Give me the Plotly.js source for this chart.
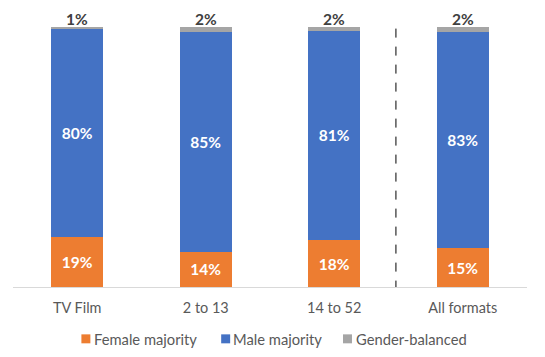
<!DOCTYPE html>
<html>
<head>
<meta charset="utf-8">
<script src="https://cdn.plot.ly/plotly-3.0.1.min.js"></script>
<style>html,body{margin:0;padding:0;background:#fff;}#chart{width:545px;height:357px;}</style>
</head>
<body>
<div id="chart"></div>
<script>
var categories = ["TV Film", "2 to 13", "14 to 52", "All formats"];
var femaleMajority = [19.3, 13.5, 18.0, 14.9];
var maleMajority = [79.9, 84.7, 80.6, 83.2];
var genderBalanced = [0.8, 1.8, 1.6, 1.9];
var seriesNames = ["Female majority", "Male majority", "Gender-balanced"];
var seriesColors = ["#ED7D31", "#4472C4", "#A5A5A5"];

var FONT = "Lato, Carlito, Calibri, sans-serif";

// pick a Lato size that gives the same text width as the original 12pt Calibri
function fitSize(sample, targetPx, weight, fallback) {
  try {
    var c = document.createElement("canvas").getContext("2d");
    c.font = weight + " 100px Lato";
    var w = c.measureText(sample).width;
    var s = 100 * targetPx / w;
    if (isFinite(s) && s > 12 && s < 20) return s;
  } catch (e) {}
  return fallback;
}
var tickSize = fitSize("TV Film", 49, "normal", 16);
var legendSize = fitSize("Female majority", 103, "normal", 16);
var labelSize = 15.5;

function barTrace(vals, i, inside) {
  var t = {
    type: "bar",
    name: seriesNames[i],
    x: categories,
    y: vals,
    marker: {color: seriesColors[i], line: {width: 0}},
    showlegend: false,
    hoverinfo: "skip"
  };
  if (inside) {
    t.texttemplate = "%{y:.0f}%";
    t.textposition = "inside";
    t.insidetextanchor = "middle";
    t.textangle = 0;
    t.constraintext = "none";
    t.textfont = {family: FONT, size: labelSize, color: "#ffffff", weight: "bold"};
  } else {
    t.textposition = "none";
  }
  return t;
}

var data = [
  barTrace(femaleMajority, 0, true),
  barTrace(maleMajority, 1, true),
  barTrace(genderBalanced, 2, false)
];

var YMAX = 100;

// top labels for the thin gender-balanced segment, placed above each stack
var annotations = categories.map(function (c, k) {
  var total = femaleMajority[k] + maleMajority[k] + genderBalanced[k];
  return {
    x: c, y: Math.min(total, YMAX), xref: "x", yref: "y",
    text: Math.round(genderBalanced[k]) + "%",
    showarrow: false, yanchor: "bottom", yshift: -3,
    font: {family: FONT, size: labelSize, color: "#404040", weight: "bold"}
  };
});

// custom legend (small squares + labels) below the plot
var plotL = 12.5, plotR = 527.3, plotT = 26.7, plotB = 287.5;
var plotW = plotR - plotL, plotH = plotB - plotT;
var legendSq = [81, 221, 343];   // pixel x of each square's left edge
var legendTx = [92, 231, 354];   // pixel x of each label's left edge
var legendY = 339.5;             // pixel y of legend centre
function px2x(p) { return (p - plotL) / plotW; }
function py2y(p) { return (plotB - p) / plotH; }

var shapes = [{
  type: "line", xref: "x", yref: "y",
  x0: 2.48, x1: 2.48, y0: -1, y1: 105,
  line: {color: "#000000", width: 1, dash: "dash"}
}];

seriesNames.forEach(function (nm, i) {
  shapes.push({
    type: "rect", xref: "paper", yref: "paper",
    x0: px2x(legendSq[i]), x1: px2x(legendSq[i] + 9),
    y0: py2y(legendY + 4.5), y1: py2y(legendY - 4.5),
    fillcolor: seriesColors[i], line: {width: 0}
  });
  annotations.push({
    xref: "paper", yref: "paper",
    x: px2x(legendTx[i]), y: py2y(legendY),
    xanchor: "left", yanchor: "middle",
    text: nm, showarrow: false,
    font: {family: FONT, size: legendSize, color: "#595959"}
  });
});

var layout = {
  width: 545, height: 357,
  margin: {l: plotL, r: 545 - plotR, t: plotT, b: 357 - plotB, autoexpand: false},
  paper_bgcolor: "#ffffff",
  plot_bgcolor: "#ffffff",
  barmode: "stack",
  bargap: 0.598,
  showlegend: false,
  xaxis: {
    type: "category",
    showgrid: false, zeroline: false,
    showline: true, linecolor: "#d9d9d9", linewidth: 1,
    ticks: "",
    ticklabelstandoff: 8,
    tickfont: {family: FONT, size: tickSize, color: "#595959"},
    fixedrange: true
  },
  yaxis: {
    range: [0, YMAX],
    visible: false,
    showgrid: false, zeroline: false,
    fixedrange: true
  },
  shapes: shapes,
  annotations: annotations
};

Plotly.newPlot("chart", data, layout, {displayModeBar: false, staticPlot: true});
</script>
</body>
</html>
